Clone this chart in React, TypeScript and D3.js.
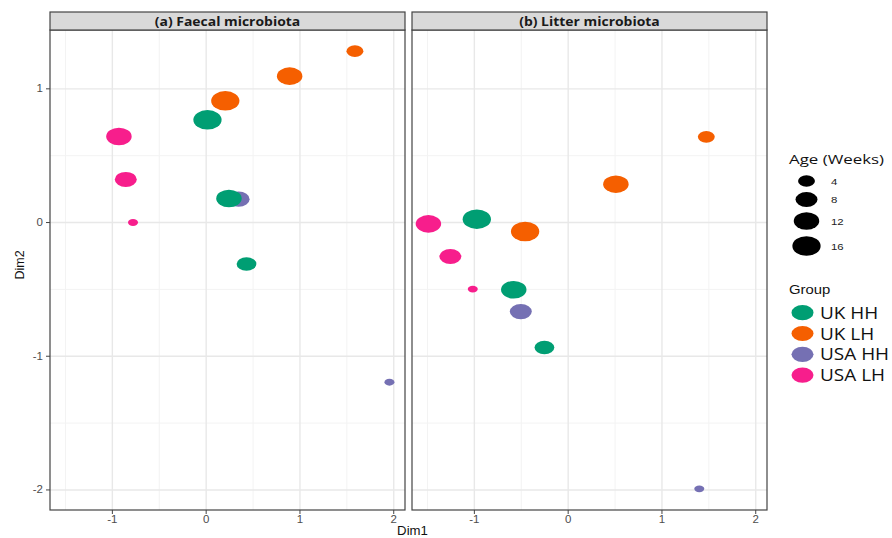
import React from "react";
import * as d3 from "d3";

const panels = ["(a) Faecal microbiota", "(b) Litter microbiota"];
const groups = ["UK HH", "UK LH", "USA HH", "USA LH"];
const groupColors = ["#009E73", "#F55F00", "#7570B3", "#F71E8C"];
const ageBreaks = [4, 8, 12, 16];
const xTicks = [-1, 0, 1, 2];
const yTicks = [1, 0, -1, -2];

// panel index, group, dim1, dim2, age (weeks)
const pointPanel = [0, 0, 0, 0, 0, 0, 0, 0, 0, 0, 0, 1, 1, 1, 1, 1, 1, 1, 1, 1, 1, 1];
const pointGroup = ["UK LH", "UK LH", "UK LH", "USA HH", "UK HH", "UK HH", "UK HH", "USA LH", "USA LH", "USA LH", "USA HH",
  "UK LH", "UK LH", "UK HH", "USA LH", "UK LH", "USA LH", "USA LH", "UK HH", "USA HH", "UK HH", "USA HH"];
const pointDim1 = [1.586, 0.89, 0.204, 0.346, 0.014, 0.243, 0.43, -0.93, -0.857, -0.78, 1.954,
  1.473, 0.509, -0.974, -1.49, -0.459, -1.256, -1.017, -0.58, -0.505, -0.253, 1.398];
const pointDim2 = [1.282, 1.095, 0.91, 0.175, 0.768, 0.18, -0.31, 0.643, 0.322, 0.0, -1.194,
  0.641, 0.287, 0.025, -0.01, -0.067, -0.254, -0.498, -0.503, -0.666, -0.935, -1.992];
const pointAge = [4, 12, 16, 8, 16, 12, 6, 12, 8, 2, 2,
  4, 12, 16, 12, 16, 8, 2, 12, 8, 6, 2];

const W = 892;
const H = 538;
const panelLeft = [50, 412];
const panelW = 355;
const plotTop = 30;
const plotBottom = 510;
const stripTop = 12;
const aspect = 1.45;

const sizeT = d3.scaleLinear().domain([2, 16]).range([0, 1]).clamp(true);
const rxOf = (age: number) => 5 + 9.15 * Math.sqrt(sizeT(age));

function SText(props: { x: number; y: number; sx: number; anchor?: string; children: React.ReactNode; [k: string]: any }) {
  const { x, y, sx, anchor, children, ...rest } = props;
  return (
    <g transform={`translate(${x},${y}) scale(${sx},1)`}>
      <text x={0} y={0} textAnchor={anchor || "start"} {...rest}>
        {children}
      </text>
    </g>
  );
}

export default function App() {
  const y = d3.scaleLinear().domain([-2.15, 1.44]).range([plotBottom, plotTop]);
  const color = d3.scaleOrdinal<string, string>().domain(groups).range(groupColors);
  const xScales = panelLeft.map((l) => d3.scaleLinear().domain([-1.665, 2.12]).range([l, l + panelW]));
  const xMinor = [-1.5, -0.5, 0.5, 1.5];
  const yMinor = [0.5, -0.5, -1.5];
  const tickFont = "'Liberation Sans', Arial, sans-serif";
  const osFont = "'Open Sans', sans-serif";

  return (
    <svg width={W} height={H} style={{ position: "absolute", left: 0, top: 0, background: "#fff" }}>
      {panels.map((title, p) => {
        const x = xScales[p];
        const l = panelLeft[p];
        return (
          <g key={p}>
            {xMinor.map((v) => (
              <line key={"xm" + v} x1={x(v)} x2={x(v)} y1={plotTop} y2={plotBottom} stroke="#f3f3f3" strokeWidth={1} />
            ))}
            {yMinor.map((v) => (
              <line key={"ym" + v} x1={l} x2={l + panelW} y1={y(v)} y2={y(v)} stroke="#f3f3f3" strokeWidth={1} />
            ))}
            {xTicks.map((v) => (
              <line key={"xg" + v} x1={x(v)} x2={x(v)} y1={plotTop} y2={plotBottom} stroke="#e8e8e8" strokeWidth={1.4} />
            ))}
            {yTicks.map((v) => (
              <line key={"yg" + v} x1={l} x2={l + panelW} y1={y(v)} y2={y(v)} stroke="#e8e8e8" strokeWidth={1.4} />
            ))}
            {pointDim1.map((d1, i) =>
              pointPanel[i] === p ? (
                <ellipse
                  key={"pt" + i}
                  cx={x(d1)}
                  cy={y(pointDim2[i])}
                  rx={rxOf(pointAge[i])}
                  ry={rxOf(pointAge[i]) / aspect}
                  fill={color(pointGroup[i])}
                />
              ) : null
            )}
            <rect x={l} y={plotTop} width={panelW} height={plotBottom - plotTop} fill="none" stroke="#444" strokeWidth={1.2} />
            <rect x={l} y={stripTop} width={panelW} height={plotTop - stripTop} fill="#d9d9d9" stroke="#444" strokeWidth={1.2} />
            <SText x={l + panelW / 2} y={(stripTop + plotTop) / 2 + 4.6} sx={1.09} anchor="middle" fontFamily={osFont} fontWeight="bold" fontSize={12.8} fill="#1a1a1a">
              {title}
            </SText>
            {xTicks.map((v) => (
              <g key={"xt" + v}>
                <line x1={x(v)} x2={x(v)} y1={plotBottom} y2={plotBottom + 4} stroke="#444" />
                <SText x={x(v)} y={plotBottom + 12.5} sx={1.15} anchor="middle" fontFamily={tickFont} fontSize={10} fill="#4d4d4d">
                  {v}
                </SText>
              </g>
            ))}
          </g>
        );
      })}
      {yTicks.map((v) => (
        <g key={"yt" + v}>
          <line x1={46} x2={50} y1={y(v)} y2={y(v)} stroke="#444" />
          <SText x={43} y={y(v) + 3.5} sx={1.15} anchor="end" fontFamily={tickFont} fontSize={10} fill="#4d4d4d">
            {v}
          </SText>
        </g>
      ))}
      <SText x={412.5} y={534.5} sx={1.1} anchor="middle" fontFamily={tickFont} fontSize={12} fill="#111">
        Dim1
      </SText>
      <text transform={`translate(24,265) rotate(-90)`} textAnchor="middle" fontFamily={tickFont} fontSize={12.5} fill="#111">
        Dim2
      </text>

      {/* Size legend */}
      <SText x={789} y={164} sx={1.25} fontFamily={osFont} fontSize={13.5} fill="#111">
        Age (Weeks)
      </SText>
      {ageBreaks.map((a, i) => {
        const cy = [181, 199.5, 221, 246][i];
        return (
          <g key={"age" + a}>
            <ellipse cx={806.5} cy={cy} rx={rxOf(a)} ry={rxOf(a) / aspect} fill="#000" />
            <SText x={831} y={cy + 3.5} sx={1.2} fontFamily={tickFont} fontSize={9.5} fill="#222">
              {a}
            </SText>
          </g>
        );
      })}

      {/* Group legend */}
      <SText x={789} y={294} sx={1.19} fontFamily={tickFont} fontSize={12.5} fill="#111">
        Group
      </SText>
      {groups.map((g, i) => {
        const cy = 312.7 + i * 20.8;
        return (
          <g key={g}>
            <ellipse cx={802.5} cy={cy} rx={11} ry={11 / aspect} fill={color(g)} />
            <SText x={820} y={cy + 6} sx={1.15} fontFamily={osFont} fontSize={16.5} fill="#111">
              {g}
            </SText>
          </g>
        );
      })}
    </svg>
  );
}
